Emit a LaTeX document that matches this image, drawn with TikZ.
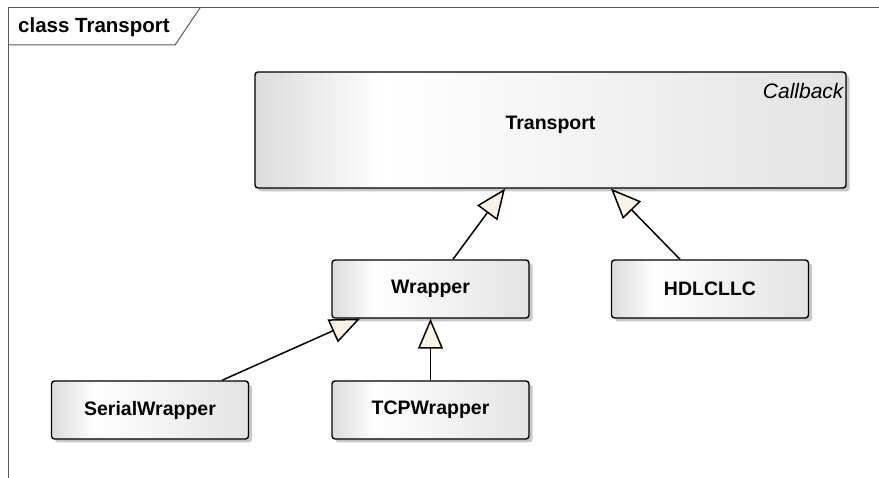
\documentclass[tikz,border=0pt]{standalone}
\usepackage{fontspec}
\setmainfont{Liberation Sans}
\usetikzlibrary{arrows.meta,shadows}
\definecolor{mycream}{rgb}{0.99,0.95,0.89}
\definecolor{myshadow}{rgb}{0.78,0.78,0.80}
\pgfdeclarehorizontalshading{boxfill}{100bp}{color(0bp)=(black!14); color(25bp)=(black!14); color(36bp)=(white); color(75bp)=(black!11); color(100bp)=(black!11)}
\tikzset{classbox/.style={draw, line width=1.4pt, rounded corners=3pt, shade, shading=boxfill, minimum height=58pt, minimum width=197pt, inner sep=0pt, font=\fontsize{19.5}{22}\selectfont\bfseries, drop shadow={shadow xshift=3.5pt, shadow yshift=-3.5pt, fill=myshadow, opacity=1}}}
\tikzset{extends/.style={draw, line width=1.5pt, -{Triangle[length=30pt, width=25pt, fill=mycream]}}}
\tikzset{frameline/.style={draw=black!65, line width=1pt}}

\begin{document}
\begin{tikzpicture}[x=1pt, y=-1pt]
\useasboundingbox (0,0) rectangle (879,478);
% frame
\draw [frameline] (879,8) -- (8,8) -- (8,478);
\draw [frameline] (8,45) -- (175,45) -- (200,8);
\node [anchor=west, inner sep=0pt, font=\fontsize{20.5}{22}\selectfont\bfseries] (title) at (18,27) {class Transport};
% classes
\node [classbox, minimum width=591pt, minimum height=116pt, text depth=14pt, label={[anchor=north east, inner sep=0pt, xshift=-3pt, yshift=-12pt, font=\fontsize{21}{22}\selectfont\itshape]north east:Callback}] (transport) at (550.5,130) {Transport};
\node [classbox] (wrapper) at (430.5,289) {Wrapper};
\node [classbox] (hdlc) at (710,289) {HDLCLLC};
\node [classbox] (serial) at (150,410) {SerialWrapper};
\node [classbox] (tcp) at (430.5,410) {TCPWrapper};
% generalizations
\draw [extends] ([xshift=22.5pt]wrapper.north) -- ([xshift=-45.5pt]transport.south);
\draw [extends] ([xshift=-30pt]hdlc.north) -- ([xshift=60.5pt]transport.south);
\draw [extends] ([xshift=72pt]serial.north) -- ([xshift=-70.5pt]wrapper.south);
\draw [extends] (tcp.north) -- (wrapper.south);
\end{tikzpicture}
\end{document}
